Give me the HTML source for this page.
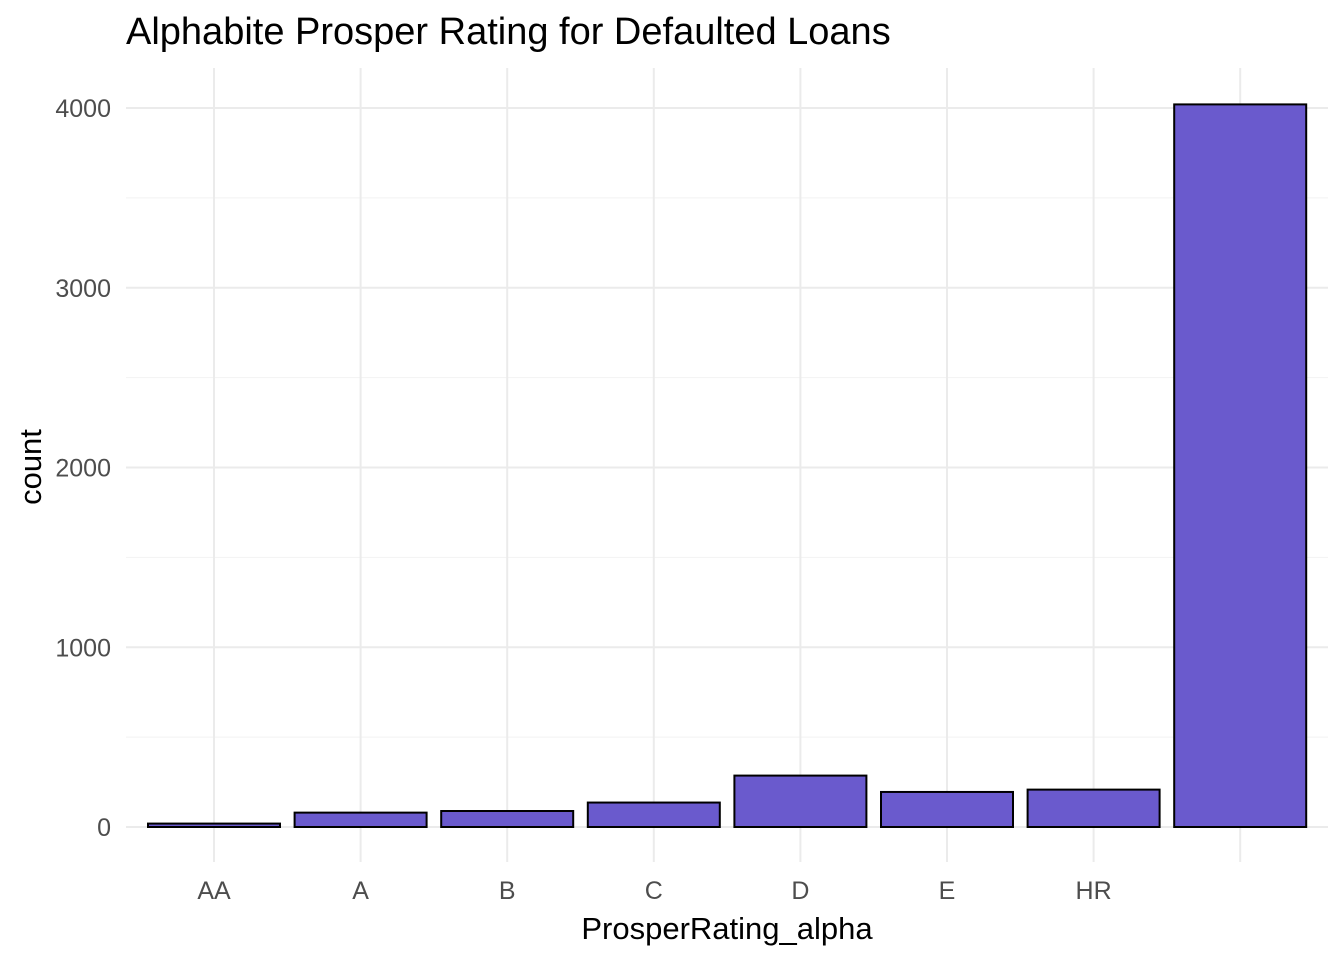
<!DOCTYPE html>
<html><head><meta charset="utf-8"><style>
body{margin:0;background:#fff;font-family:"Liberation Sans",sans-serif}
</style></head><body>
<svg id="chart" width="1344" height="960" xmlns="http://www.w3.org/2000/svg" font-family="Liberation Sans, sans-serif">
<rect width="1344" height="960" fill="#fff"/>
<text x="126" y="44" font-size="38" fill="#000">Alphabite Prosper Rating for Defaulted Loans</text>
<text x="727" y="939" font-size="31" text-anchor="middle" fill="#000">ProsperRating_alpha</text>
<text transform="translate(41,467) rotate(-90)" font-size="31" text-anchor="middle" fill="#000">count</text>
<g id="grid"></g><g id="bars"></g><g id="labels"></g>
</svg>
<script>
const categories=["AA","A","B","C","D","E","HR",""];
const counts=[19,80,89,136,286,195,208,4020];
const yTicks=[0,1000,2000,3000,4000];
const ns="http://www.w3.org/2000/svg";
const y0=827,pxPer=(827-108)/4000;
const yScale=v=>y0-v*pxPer;
const step=146.6,xStart=214;
const xScale=i=>xStart+i*step;
const barW=132;
const plotTop=68,plotBottom=862,plotLeft=126,plotRight=1328;
const grid=document.getElementById('grid'),bars=document.getElementById('bars'),labels=document.getElementById('labels');
function mk(t,a,p){const e=document.createElementNS(ns,t);for(const k in a)e.setAttribute(k,a[k]);p.appendChild(e);return e;}
for(let i=0;i<yTicks.length-1;i++){const m=(yTicks[i]+yTicks[i+1])/2;
 const l=mk('line',{x1:plotLeft,x2:plotRight,y1:yScale(m),y2:yScale(m),stroke:'#f2f2f2','stroke-width':1},grid);
 
 }
yTicks.forEach(v=>{const l=mk('line',{x1:plotLeft,x2:plotRight,y1:yScale(v),y2:yScale(v),stroke:'#ebebeb','stroke-width':2},grid);
 
 
 const t=mk('text',{x:111,y:yScale(v)+9,'font-size':25,'text-anchor':'end',fill:'#4d4d4d'},labels);t.textContent=v;
 
 });
categories.forEach((c,i)=>{const x=xScale(i);
 const l=mk('line',{x1:x,x2:x,y1:plotTop,y2:plotBottom,stroke:'#ebebeb','stroke-width':2},grid);
 
 
 const r=mk('rect',{x:x-barW/2,y:yScale(counts[i]),width:barW,height:y0-yScale(counts[i]),fill:'#6a5acd',stroke:'#000','stroke-width':2},bars);
 
 
 const t=mk('text',{x:x,y:899,'font-size':25,'text-anchor':'middle',fill:'#4d4d4d'},labels);t.textContent=c;
 
 });
</script>
</body></html>
